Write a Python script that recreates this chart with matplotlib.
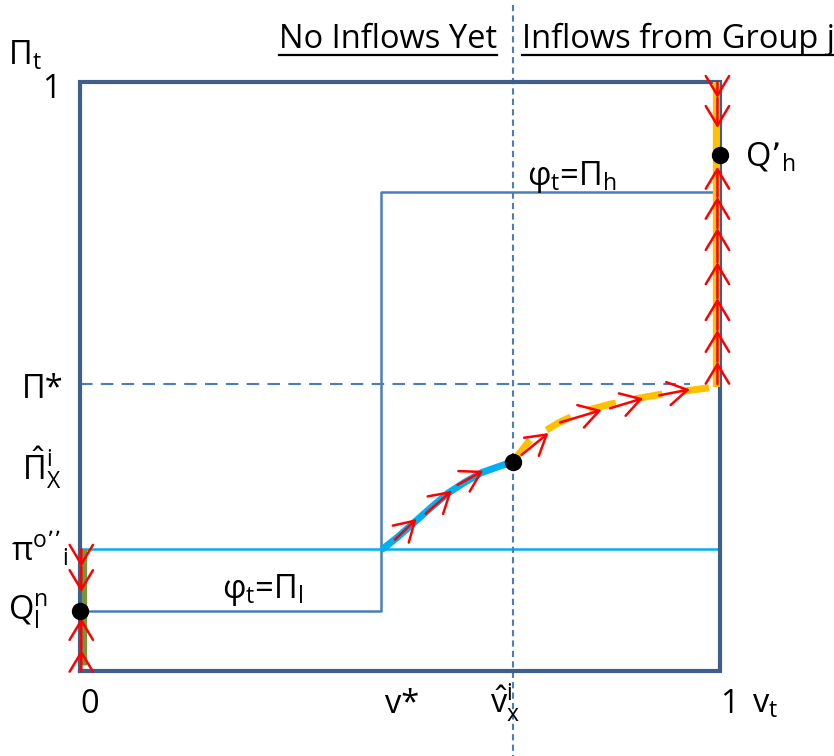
import matplotlib
matplotlib.use("Agg")
import matplotlib.pyplot as plt
from matplotlib.lines import Line2D

plt.rcParams["font.family"] = ["Open Sans", "DejaVu Sans"]
plt.rcParams["mathtext.default"] = "regular"

# key levels on the unit square (v_t across, Pi_t up)
v_star = 0.470
v_hat = 0.676
pi_star = 0.487
pi_hat = 0.355
pi_o = 0.207
pi_l = 0.102
pi_h = 0.813
q_h = 0.876

# blue path from (v*, pi_o) to the hat point
blue_x = [0.470, 0.474, 0.497, 0.523, 0.550, 0.575, 0.602, 0.628, 0.654, 0.676]
blue_y = [0.207, 0.208, 0.228, 0.253, 0.279, 0.302, 0.321, 0.337, 0.347, 0.355]

# orange dashed path from the hat point to (1, pi*)
orange_x = [0.676, 0.703, 0.747, 0.784, 0.828, 0.872, 0.914, 0.956, 1.000]
orange_y = [0.355, 0.392, 0.421, 0.440, 0.453, 0.463, 0.471, 0.477, 0.483]

# red arrows along the path: (tail x, tail y, tip x, tip y)
path_arrows = [
    (0.492, 0.223, 0.526, 0.258),
    (0.540, 0.267, 0.581, 0.306),
    (0.590, 0.316, 0.630, 0.340),
    (0.690, 0.367, 0.732, 0.404),
    (0.750, 0.422, 0.815, 0.443),
    (0.828, 0.446, 0.880, 0.463),
    (0.905, 0.468, 0.953, 0.478),
]
# vertical arrows: tip heights on the right edge and left edge
right_up = [0.525, 0.579, 0.633, 0.694, 0.752, 0.805, 0.856]
right_down = [0.973, 0.922]
left_down = [0.177, 0.134]
left_up = [0.036, 0.090]

dots_x = [0.0, v_hat, 1.0]
dots_y = [pi_l, pi_hat, q_h]

box_c = "#3e5f8c"
line_c = "#4a7ebb"
cyan = "#00b0f0"
orange = "#ffc000"
green = "#77933c"
red = "#ff0000"

fig = plt.figure(figsize=(8.34, 7.56), dpi=100)
ax = fig.add_axes([80 / 834, 85 / 756, 640 / 834, 589 / 756])
ax.set_xlim(0, 1)
ax.set_ylim(0, 1)
ax.axis("off")

# frame
ax.plot([0, 1, 1, 0, 0], [0, 0, 1, 1, 0], color=box_c, lw=3, zorder=2,
        solid_joinstyle="miter", clip_on=False)
# phi_t step line
ax.plot([0, v_star, v_star, 1], [pi_l, pi_l, pi_h, pi_h], color=line_c, lw=1.8, zorder=1)
# pi_o level
ax.plot([0, 1], [pi_o, pi_o], color=cyan, lw=1.8, zorder=1)
# Pi* dashed
ax.plot([0, 0.953], [pi_star, pi_star], color=line_c, lw=1.5, dashes=(6, 4), zorder=1)
# v_hat dashed divider
ax.plot([v_hat, v_hat], [1.131, -0.146], color=line_c, lw=1.5, dashes=(3, 2),
        zorder=1, clip_on=False)

# paths
ax.plot(blue_x, blue_y, color=cyan, lw=5, zorder=3, solid_capstyle="butt")
ax.plot(orange_x, orange_y, color=orange, lw=5, dashes=(4, 2.8), zorder=3)
ax.plot([0.996, 0.996], [orange_y[-1], 1.0], color=orange, lw=6, zorder=3,
        solid_capstyle="butt")
ax.plot([0.006, 0.006], [pi_o, 0.01], color=green, lw=3.8, zorder=3,
        solid_capstyle="butt")

aprops = dict(arrowstyle="->,head_length=0.7,head_width=0.42", color=red, lw=1.8,
              mutation_scale=20, shrinkA=0, shrinkB=0)


def arrow(x0, y0, x1, y1):
    ax.annotate("", xy=(x1, y1), xytext=(x0, y0), arrowprops=aprops, zorder=5)


for x0, y0, x1, y1 in path_arrows:
    arrow(x0, y0, x1, y1)
prev = pi_star
for y in right_up:
    arrow(0.996, prev, 0.996, y)
    prev = y
prev = 1.0
for y in right_down:
    arrow(0.996, prev, 0.996, y)
    prev = y
prev = pi_o
for y in left_down:
    arrow(0.002, prev, 0.002, y)
    prev = y
prev = 0.0
for y in left_up:
    arrow(0.002, prev, 0.002, y)
    prev = y

ax.plot(dots_x, dots_y, "o", color="black", ms=11.5, zorder=6, clip_on=False)

fs = 23.5
kw = dict(fontsize=fs, va="baseline", clip_on=False, transform=ax.transData)
t_left = ax.text(0.652, 1.058, "No Inflows Yet", ha="right", **kw)
t_right = ax.text(0.691, 1.058, "Inflows from Group j", ha="left", **kw)
ax.text(-0.1125, 1.029, "Π$_{t}$", **kw)
ax.text(-0.059, 0.973, "1", **kw)
ax.text(-0.091, 0.463, "Π*", **kw)
ax.text(-0.091, 0.324, r"$\hat{Π}^{i}_{X}$", **kw)
ax.text(-0.108, 0.188, "π$^{o’’}{}_{i}$", **kw)
ax.text(-0.1125, 0.087, "Q$^{n}_{l}$", **kw)
ax.text(0.222, 0.124, "φ$_{t}$=Π$_{l}$", **kw)
ax.text(0.698, 0.825, "φ$_{t}$=Π$_{h}$", **kw)
ax.text(1.039, 0.859, "Q’$_{h}$", **kw)
ax.text(0.0, -0.071, "0", **kw)
ax.text(0.477, -0.071, "v*", **kw)
ax.text(0.64, -0.071, r"$\hat{v}^{i}_{x}$", **kw)
ax.text(1.0, -0.071, "1", **kw)
ax.text(1.05, -0.071, "v$_{t}$", **kw)

# underline the two headings
fig.canvas.draw()
r = fig.canvas.get_renderer()
for t in (t_left, t_right):
    bb = t.get_window_extent(r)
    fig.add_artist(Line2D([bb.x0, bb.x1], [756 - 55, 756 - 55], transform=None,
                          color="black", lw=1.6))

fig.savefig("out.png", dpi=100)
